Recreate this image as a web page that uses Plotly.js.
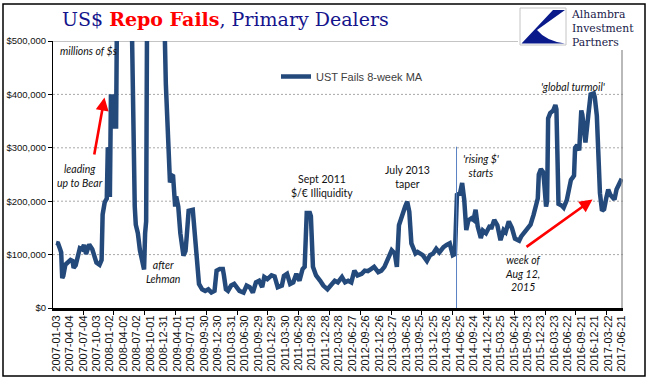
<!DOCTYPE html>
<html><head><meta charset="utf-8">
<script src="https://cdn.plot.ly/plotly-3.0.1.min.js"></script>
<style>html,body{margin:0;padding:0;background:#fff}#chart{width:652px;height:381px}</style>
</head><body><div id="chart"></div>
<script>
// ---- data (millions of $, weekly dates) ----
const weekDates = [
'2007-01-03','2007-01-17','2007-01-31','2007-02-07','2007-02-14','2007-02-21','2007-03-07','2007-03-28','2007-04-11','2007-04-25',
'2007-05-02','2007-05-16','2007-05-30','2007-06-13','2007-06-27','2007-07-11','2007-07-25','2007-08-15','2007-09-05','2007-09-19',
'2007-10-03','2007-10-24','2007-11-07','2007-11-14','2007-11-28','2007-12-12','2007-12-19','2007-12-26','2008-01-02','2008-01-09',
'2008-01-23','2008-01-30','2008-02-13','2008-02-20','2008-03-19','2008-04-23','2008-05-14','2008-05-28','2008-06-11','2008-06-18',
'2008-06-25','2008-07-09','2008-07-23','2008-08-06','2008-08-20','2008-08-27','2008-09-03','2008-09-10','2008-10-08','2008-11-19',
'2008-12-24','2008-12-31','2009-01-14','2009-01-28','2009-02-11','2009-02-25','2009-03-04','2009-03-18','2009-03-25','2009-04-08',
'2009-04-22','2009-05-13','2009-05-27','2009-06-03','2009-06-17','2009-07-15','2009-07-29','2009-08-12','2009-08-26','2009-09-16',
'2009-10-07','2009-10-28','2009-11-18','2009-12-09','2009-12-23','2010-01-13','2010-02-03','2010-02-10','2010-02-24','2010-03-10',
'2010-03-31','2010-04-21','2010-05-12','2010-05-26','2010-06-23','2010-07-14','2010-08-04','2010-08-25','2010-09-15','2010-10-06',
'2010-10-27','2010-11-10','2010-12-01','2010-12-29','2011-01-19','2011-02-09','2011-03-09','2011-03-23','2011-04-13','2011-05-04',
'2011-05-25','2011-06-15','2011-07-06','2011-07-27','2011-08-10','2011-08-24','2011-09-14','2011-09-21','2011-10-05','2011-10-26',
'2011-11-23','2011-12-14','2012-01-11','2012-02-08','2012-02-29','2012-03-21','2012-04-18','2012-05-09','2012-05-30','2012-06-20',
'2012-07-11','2012-08-01','2012-08-29','2012-09-19','2012-10-10','2012-10-31','2012-11-21','2012-12-19','2013-01-09','2013-01-30',
'2013-02-20','2013-03-20','2013-04-10','2013-04-24','2013-05-08','2013-05-29','2013-06-19','2013-07-03','2013-07-17','2013-07-31',
'2013-08-14','2013-08-28','2013-09-11','2013-09-25','2013-10-16','2013-11-13','2013-12-04','2013-12-25','2014-01-15','2014-02-05',
'2014-03-05','2014-03-26','2014-04-16','2014-05-07','2014-05-21','2014-06-04','2014-06-25','2014-07-09','2014-07-23','2014-08-06',
'2014-08-20','2014-09-10','2014-09-24','2014-10-08','2014-10-22','2014-11-12','2014-11-26','2014-12-17','2014-12-31','2015-01-14',
'2015-01-21','2015-02-11','2015-03-04','2015-03-25','2015-04-15','2015-04-29','2015-05-20','2015-06-10','2015-07-01','2015-07-29',
'2015-08-12','2015-09-02','2015-09-23','2015-10-14','2015-11-04','2015-11-18','2015-12-02','2015-12-09','2015-12-23','2016-01-06',
'2016-01-13','2016-01-27','2016-02-03','2016-02-10','2016-02-24','2016-03-16','2016-03-30','2016-04-06','2016-04-20','2016-05-11',
'2016-05-25','2016-06-15','2016-06-29','2016-07-13','2016-07-27','2016-08-03','2016-08-10','2016-08-24','2016-09-07','2016-09-21',
'2016-09-28','2016-10-12','2016-10-19','2016-11-09','2016-11-23','2016-12-14','2016-12-21','2017-01-04','2017-01-11','2017-01-18',
'2017-01-25','2017-02-08','2017-02-22','2017-03-08','2017-03-22','2017-04-05','2017-04-19','2017-05-03','2017-05-17','2017-05-31',
'2017-06-21'
];
const ustFails8wkMA = [
122000,121000,110000,104000,56000,60000,81000,88000,90000,88000,
75000,80000,93000,112000,110000,118000,101000,119000,110000,100000,
85000,81000,90000,175000,198000,205000,300000,298000,208000,396000,
396000,340000,340000,1150000,1600000,1300000,800000,520000,300000,190000,
156000,140000,108000,85000,72000,140000,162000,600000,2000000,1800000,
900000,600000,420000,310000,235000,248000,247000,190000,209000,190000,
140000,98000,107000,130000,182000,184000,134000,108000,45000,35000,
32000,35000,29000,32000,70000,73000,73000,62000,35000,32000,
42000,45000,39000,32000,29000,42000,39000,29000,48000,51000,
39000,58000,54000,61000,59000,39000,42000,60000,64000,45000,
48000,64000,51000,73000,77000,178000,178000,172000,77000,61000,
51000,42000,35000,45000,51000,48000,58000,48000,51000,48000,
70000,61000,64000,70000,69000,73000,77000,67000,70000,77000,
92000,108000,102000,77000,155000,175000,190000,199000,180000,121000,
112000,102000,105000,102000,99000,88000,99000,102000,111000,104000,
114000,118000,121000,99000,101000,212000,215000,234000,203000,146000,
164000,168000,165000,184000,153000,131000,145000,140000,150000,155000,
148000,165000,155000,127000,146000,142000,162000,150000,130000,126000,
134000,142000,150000,156000,175000,192000,205000,250000,260000,255000,
240000,190000,200000,355000,365000,370000,380000,372000,195000,192000,
188000,202000,222000,240000,245000,248000,300000,305000,295000,370000,
362000,333000,310000,365000,400000,402000,395000,360000,310000,250000,
215000,182000,185000,205000,222000,212000,207000,203000,222000,230000,
242000
];
const xTickLabels = [
'2007-01-03','2007-04-04','2007-07-04','2007-10-03','2008-01-02','2008-04-02','2008-07-02','2008-10-01','2008-12-31',
'2009-04-01','2009-07-01','2009-09-30','2009-12-30','2010-03-31','2010-06-30','2010-09-29','2010-12-29','2011-03-30',
'2011-06-29','2011-09-28','2011-12-28','2012-03-28','2012-06-27','2012-09-26','2012-12-26','2013-03-27','2013-06-26',
'2013-09-25','2013-12-25','2014-03-26','2014-06-25','2014-09-24','2014-12-24','2015-03-25','2015-06-24','2015-09-23',
'2015-12-23','2016-03-23','2016-06-22','2016-09-21','2016-12-21','2017-03-22','2017-06-21'
];
const yTickValues = [0,100000,200000,300000,400000,500000];
const yTickLabels = ['$0','$100,000','$200,000','$300,000','$400,000','$500,000'];
const seriesName = 'UST Fails 8-week MA';

// ---- layout helpers (pixel -> paper) ----
const W=652,H=381,L=53,R=29,T=41,B=73;
const pw=W-L-R, ph=H-T-B;
const px = x => (x-L)/pw;
const py = y => (H-B-y)/ph;
const xRange = ['2006-12-13 16:00','2017-06-29 19:00'];

const noteFont = {family:'Lato, Open Sans, sans-serif', size:10.5, color:'#111'};
function note(text, x, y, xanchor){
  return {text:text, xref:'paper', yref:'paper', x:px(x), y:py(y), xanchor:xanchor||'center', yanchor:'middle',
          align:'center', showarrow:false, font:noteFont};
}
function arrow(hx, hy, tx, ty){
  return {text:'', xref:'paper', yref:'paper', x:px(hx), y:py(hy), ax:tx-hx, ay:ty-hy, axref:'pixel', ayref:'pixel',
          showarrow:true, arrowhead:2, arrowsize:1, arrowwidth:2.6, arrowcolor:'#ff0000', standoff:0};
}

const shapes = [];
[100000,200000,300000,400000].forEach(v=>{
  shapes.push({type:'line', xref:'paper', yref:'y', x0:0, x1:1, y0:v, y1:v, layer:'below',
               line:{color:'#a8a8a8', width:1, dash:'2px,2px'}});
});
shapes.push({type:'line', xref:'paper', yref:'y', x0:0, x1:px(518), y0:500000, y1:500000, layer:'below', line:{color:'#8a8a8a', width:1.2}});
shapes.push({type:'line', xref:'paper', yref:'paper', x0:px(622), x1:px(622), y0:py(50), y1:0, line:{color:'#8a8a8a', width:1.2}});
shapes.push({type:'line', xref:'x', yref:'y', x0:'2014-06-01', x1:'2014-06-01', y0:0, y1:302000, line:{color:'#5a83c4', width:1}});
shapes.push({type:'rect', xref:'paper', yref:'paper', x0:px(520), x1:px(566), y0:py(45), y1:py(8), line:{color:'#c4c4c4', width:1}, fillcolor:'#fff'});
shapes.push({type:'path', xref:'paper', yref:'paper',
  path:'M '+px(553)+' '+py(10)+' L '+px(565)+' '+py(10)+' L '+px(537)+' '+py(30)+' Q '+px(546)+' '+py(41)+' '+px(565)+' '+py(43.5)+' L '+px(521.5)+' '+py(43.5)+' Z',
  fillcolor:'#0a1a8a', line:{width:0}});
shapes.push({type:'rect', xref:'paper', yref:'paper', x0:px(3), x1:px(645), y0:py(376), y1:py(4), line:{color:'#000', width:1.5}, fillcolor:'rgba(0,0,0,0)'});

const annotations = [
  note('<i>millions of $s</i>', 58, 50.7, 'left'),
  note('<i>leading<br>up to Bear</i>', 80, 176),
  note('<i>after<br>Lehman</i>', 163, 271.5),
  note('Sept 2011<br>$/€ Illiquidity', 321.5, 186),
  note('July 2013<br>taper', 407, 177),
  note("<i>'rising $'<br>starts</i>", 480.5, 166),
  note("<i>'global turmoil'</i>", 573, 86.7),
  note('<i>week of<br>Aug 12,<br>2015</i>', 522.5, 273.5),
  arrow(104.5, 97.5, 94, 156),
  arrow(592.5, 199.5, 525, 248),
  {text:'Alhambra<br>Investment<br>Partners', xref:'paper', yref:'paper', x:px(568.5), y:py(28.8), xanchor:'left', yanchor:'middle',
   align:'left', showarrow:false, font:{family:'DejaVu Serif, serif', size:10.8, color:'#20204a'}}
];

const traces = [
  {x:weekDates, y:ustFails8wkMA, type:'scatter', mode:'lines', name:seriesName, xaxis:'x', yaxis:'y',
   line:{color:'#24497b', width:4.5}, hoverinfo:'skip'},
  {x:[], y:[], type:'scatter', mode:'lines', xaxis:'x2', yaxis:'y', showlegend:false, hoverinfo:'skip'}
];

const layout = {
  width:W, height:H,
  margin:{l:L, r:R, t:T, b:B, autoexpand:false},
  paper_bgcolor:'#fff', plot_bgcolor:'#fff',
  title:{text:'US$ <b><span style="color:#ff0000">Repo Fails</span></b>, Primary Dealers',
         font:{family:'DejaVu Serif, serif', size:19, color:'#14148c'},
         xref:'container', yref:'container', x:62/W, xanchor:'left', y:1-19/H, yanchor:'middle'},
  xaxis:{type:'date', range:xRange, tickmode:'array', tickvals:xTickLabels, ticktext:xTickLabels, tickangle:-90,
         tickfont:{family:'Liberation Sans, Arial, sans-serif', size:11, color:'#111'}, ticks:'',
         showline:true, linecolor:'#000', linewidth:3, showgrid:false, zeroline:false},
  xaxis2:{type:'date', overlaying:'x', anchor:'y', side:'bottom', range:xRange, tickmode:'linear',
          tick0:'2007-07-04 08:00', dtick:17979840000, showticklabels:false, ticks:'outside', ticklen:6,
          tickwidth:1, tickcolor:'#000', showline:false, showgrid:false, zeroline:false},
  yaxis:{range:[0,500000], tickmode:'array', tickvals:yTickValues, ticktext:yTickLabels, ticks:'outside', ticklen:4,
         tickcolor:'#000', showline:true, linecolor:'#000', linewidth:1, showgrid:false, zeroline:false,
         tickfont:{family:'Liberation Sans, Arial, sans-serif', size:9.5, color:'#111'}},
  showlegend:true,
  legend:{x:px(276), y:py(62), xanchor:'left', yanchor:'top', bgcolor:'rgba(0,0,0,0)', borderwidth:0,
          itemwidth:30, font:{family:'Liberation Sans, Arial, sans-serif', size:11, color:'#404040'}},
  shapes:shapes,
  annotations:annotations
};

Plotly.newPlot('chart', traces, layout, {staticPlot:true, displayModeBar:false});
</script>
</body></html>
